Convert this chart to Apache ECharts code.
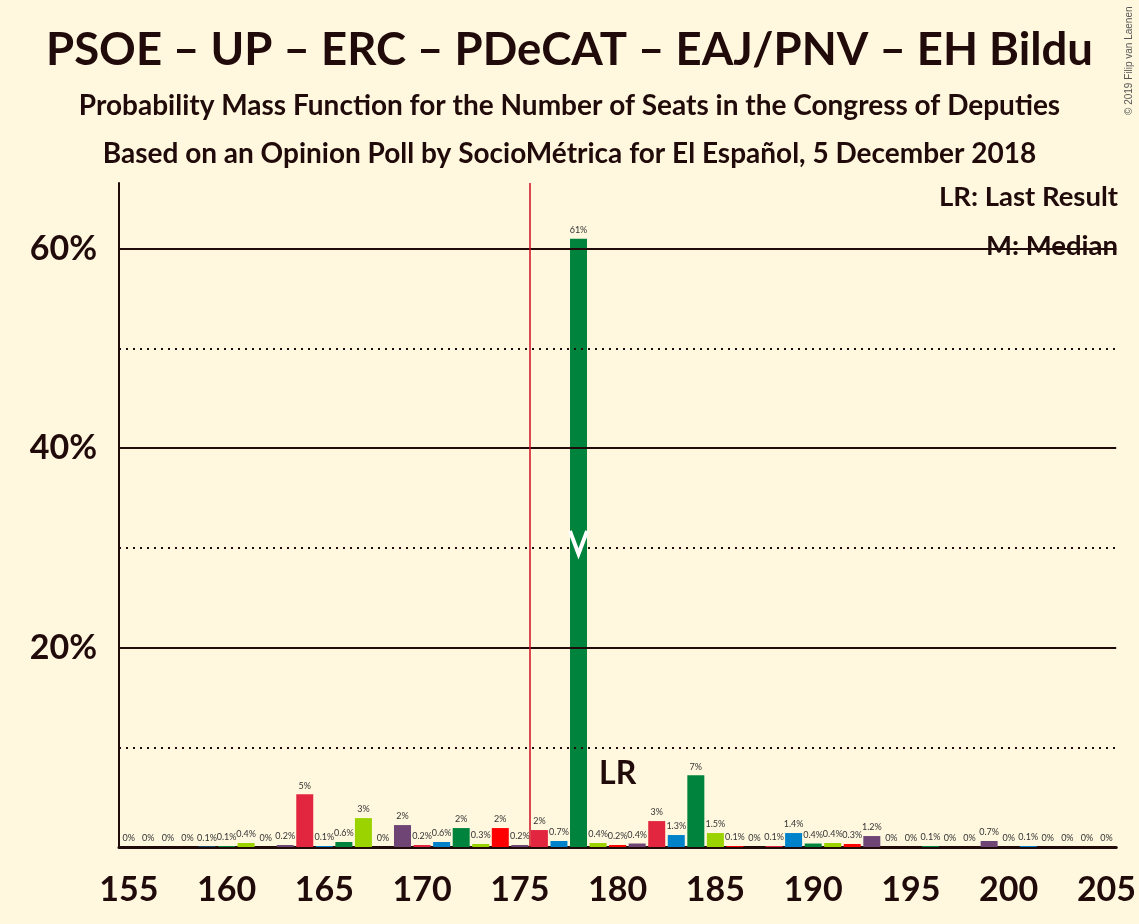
<!DOCTYPE html>
<html>
<head>
<meta charset="utf-8">
<script src="https://cdn.jsdelivr.net/npm/echarts@6/dist/echarts.min.js"></script>
<style>
    html, body { margin: 0; padding: 0; background: #FFF8DF; }
    #chart { width: 1139px; height: 924px; }
</style>
</head>
<body>
<div id="chart"></div>
<script>
    // seats 155 .. 205
    var seats = [];
    for (var s = 155; s <= 205; s++) seats.push(String(s));

    // probability (%) per seat
    var probs = [
        0, 0, 0, 0, 0.05, 0.1, 0.4, 0, 0.2, 5.3,
        0.1, 0.5, 2.9, 0, 2.2, 0.2, 0.5, 1.9, 0.3, 1.9,
        0.2, 1.7, 0.6, 61.0, 0.4, 0.2, 0.35, 2.6, 1.2, 7.2,
        1.4, 0.1, 0, 0.1, 1.4, 0.35, 0.4, 0.3, 1.1, 0,
        0, 0.1, 0, 0, 0.6, 0, 0.1, 0, 0, 0, 0
    ];
    // printed labels above the bars
    var probLabels = [
        '0%', '0%', '0%', '0%', '0.1%', '0.1%', '0.4%', '0%', '0.2%', '5%',
        '0.1%', '0.6%', '3%', '0%', '2%', '0.2%', '0.6%', '2%', '0.3%', '2%',
        '0.2%', '2%', '0.7%', '61%', '0.4%', '0.2%', '0.4%', '3%', '1.3%', '7%',
        '1.5%', '0.1%', '0%', '0.1%', '1.4%', '0.4%', '0.4%', '0.3%', '1.2%', '0%',
        '0%', '0.1%', '0%', '0%', '0.7%', '0%', '0.1%', '0%', '0%', '0%', '0%'
    ];
    // party colours, cycled over the seats (164 starts the cycle)
    var partyColors = ['#E3263F', '#0082CA', '#00843D', '#9BD300', '#FF0000', '#6F4576'];

    var majority = 175.5;   // 176 seats needed
    var lastResult = 180;
    var median = 178;
    var solidLines = [20, 40, 60];
    var dottedLines = [10, 30, 50];

    var ink = '#200A0A';
    var bg = '#FFF8DF';

    var myChart = echarts.init(document.getElementById('chart'));

    var barData = probs.map(function (v, i) {
        return { value: v, itemStyle: { color: partyColors[(i + 3) % 6] } };
    });

    var gridLines = [];
    solidLines.forEach(function (y) {
        gridLines.push({ yAxis: y, lineStyle: { type: 'solid', width: 2, color: ink } });
    });
    dottedLines.forEach(function (y) {
        gridLines.push({ yAxis: y, lineStyle: { type: [2, 5], width: 2, color: ink } });
    });

    myChart.setOption({
        backgroundColor: bg,
        animation: false,
        textStyle: { fontFamily: 'Lato', color: ink },
        title: [
            {
                text: 'PSOE – UP – ERC – PDeCAT – EAJ/PNV – EH Bildu',
                left: 'center', top: 22,
                textStyle: { fontFamily: 'Lato', fontSize: 45.5, fontWeight: 'bold', color: ink }
            },
            {
                text: 'Probability Mass Function for the Number of Seats in the Congress of Deputies',
                left: 'center', top: 87,
                textStyle: { fontFamily: 'Lato', fontSize: 28, fontWeight: 'bold', color: ink }
            },
            {
                text: 'Based on an Opinion Poll by SocioMétrica for El Español, 5 December 2018',
                left: 'center', top: 135,
                textStyle: { fontFamily: 'Lato', fontSize: 28, fontWeight: 'bold', color: ink }
            }
        ],
        graphic: [
            {
                type: 'text', z: -10, right: 21, top: 183,
                style: { text: 'LR: Last Result', font: 'bold 27.5px Lato', fill: ink }
            },
            {
                type: 'text', z: -10, right: 21, top: 232,
                style: { text: 'M: Median', font: 'bold 27.5px Lato', fill: ink }
            },
            {
                type: 'text', x: 1124, y: 115, rotation: Math.PI / 2,
                style: { text: '© 2019 Filip van Laenen', font: '10px "Liberation Sans"', fill: '#555' }
            }
        ],
        grid: { left: 119, right: 19, top: 183, bottom: 77 },
        xAxis: [
            {
                type: 'category',
                data: seats,
                boundaryGap: true,
                axisLine: { lineStyle: { color: ink, width: 3 } },
                axisTick: { show: false },
                axisLabel: {
                    interval: 4, margin: 26,
                    fontFamily: 'Lato', fontSize: 34, fontWeight: 'bold', color: ink
                }
            },
            {
                type: 'value', min: 154.5, max: 205.5,
                show: false, position: 'bottom',
                splitLine: { show: false }
            }
        ],
        yAxis: {
            type: 'value', min: 0, max: 66.6, interval: 10,
            axisLine: { show: true, lineStyle: { color: ink, width: 2 } },
            axisTick: { show: false },
            splitLine: { show: false },
            axisLabel: {
                margin: 22,
                fontFamily: 'Lato', fontSize: 34, fontWeight: 'bold', color: ink,
                formatter: function (v) {
                    return solidLines.indexOf(v) >= 0 ? v + '%' : '';
                }
            }
        },
        series: [
            {
                // horizontal reference lines, below the bars
                type: 'line', data: [], z: 1, silent: true,
                markLine: {
                    silent: true, symbol: 'none', label: { show: false },
                    data: gridLines
                }
            },
            {
                name: 'Probability',
                type: 'bar',
                z: 3,
                barWidth: 17,
                data: barData,
                label: {
                    show: true, position: 'top', distance: 4,
                    fontFamily: 'Lato', fontSize: 9, color: '#333',
                    formatter: function (p) { return probLabels[p.dataIndex]; }
                }
            },
            {
                // majority line
                type: 'line', xAxisIndex: 1, data: [], z: 2,
                markLine: {
                    silent: true, symbol: 'none', label: { show: false },
                    lineStyle: { color: '#CC1020', width: 1.5, type: 'solid' },
                    data: [{ xAxis: majority }]
                }
            },
            {
                // median marker
                type: 'line', xAxisIndex: 1, z: 5, symbol: 'none',
                lineStyle: { color: '#FFFFFF', width: 4, join: 'miter' },
                data: [[median - 0.44, 31.7], [median, 29.4], [median + 0.44, 31.7]]
            },
            {
                // last result label
                type: 'scatter', xAxisIndex: 1, z: 5, symbolSize: 0,
                itemStyle: { opacity: 1 },
                data: [[lastResult, 7.4]],
                label: {
                    show: true, position: 'inside', formatter: 'LR',
                    fontFamily: 'Lato', fontSize: 32, fontWeight: 'bold', color: ink
                }
            }
        ]
    });
</script>
</body>
</html>
